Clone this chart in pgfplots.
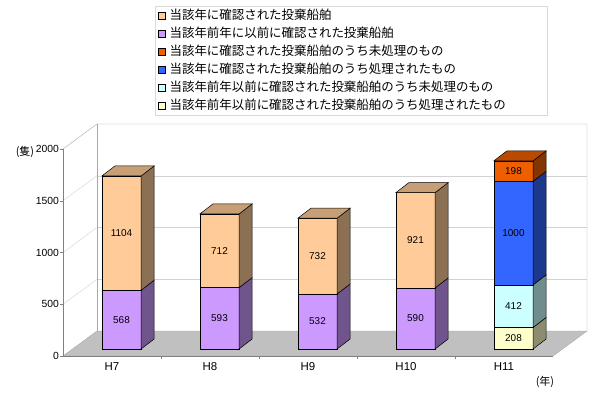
\documentclass[border=0pt]{standalone}
\usepackage{fontspec}
\setmainfont{Liberation Sans}
\newfontfamily\jp{Noto Sans CJK JP}
\usepackage{pgfplots}
\pgfplotsset{compat=1.18}

\definecolor{peach}{HTML}{FFCC99}
\definecolor{lav}{HTML}{CC99FF}
\definecolor{orng}{HTML}{EE5F00}
\definecolor{blu}{HTML}{3366FF}
\definecolor{cyn}{HTML}{CCFFFF}
\definecolor{ylw}{HTML}{FFFFCC}
\definecolor{floorgray}{HTML}{C0C0C0}
\definecolor{gridc}{HTML}{D2D2D2}
\definecolor{wallc}{HTML}{A8A8A8}

% #1 category index, #2 base, #3 value, #4 colour, #5 draw top face (1/0)
\newcommand\seg[5]{%
  \pgfmathsetmacro\xa{#1+0.097-0.2}%
  \pgfmathsetmacro\xb{#1+0.097+0.2}%
  \pgfmathsetmacro\xc{\xb+0.133}%
  \pgfmathsetmacro\xe{\xa+0.133}%
  \pgfmathsetmacro\ya{#2+67.6}%
  \pgfmathsetmacro\yb{#2+#3+67.6}%
  \pgfmathsetmacro\yc{\ya+96.6}%
  \pgfmathsetmacro\yd{\yb+96.6}%
  \pgfmathsetmacro\xm{#1+0.097}%
  \pgfmathsetmacro\ym{#2+#3/2+67.6}%
  \addplot[forget plot, fill=#4, draw=black, line width=0.5pt] coordinates {(\xa,\ya) (\xb,\ya) (\xb,\yb) (\xa,\yb)} -- cycle;
  \addplot[forget plot, fill=#4!55!black, draw=black, line width=0.5pt] coordinates {(\xb,\ya) (\xc,\yc) (\xc,\yd) (\xb,\yb)} -- cycle;
  \ifnum#5=1
  \addplot[forget plot, fill=#4!78!black, draw=black, line width=0.5pt] coordinates {(\xa,\yb) (\xb,\yb) (\xc,\yd) (\xe,\yd)} -- cycle;
  \fi
  \addplot[forget plot, draw=none, mark=none, nodes near coords, point meta=explicit symbolic,
    nodes near coords style={anchor=center, font=\fontsize{10}{12}\selectfont, text=black}]
    coordinates {(\xm,\ym) [#3]};
}

\begin{document}
\begin{tikzpicture}
\begin{axis}[
  scale only axis, width=524bp, height=232bp,
  xmin=-0.5, xmax=4.847, ymin=0, ymax=2241.5,
  axis lines*=left, axis line style={draw=none},
  clip=false,
  ytick={0,500,1000,1500,2000},
  xtick={0,1,2,3,4}, xticklabels={H7,H8,H9,H10,H11},
  minor xtick={0.5,1.5,2.5,3.5},
  major x tick style={draw=none},
  minor x tick style={draw=gray},
  ytick style={draw=gray},
  tick align=outside,
  major tick length=3bp, minor tick length=3bp,
  /pgf/number format/assume math mode=true,
  /pgf/number format/1000 sep={},
  yticklabel style={font=\fontsize{10.4}{12}\selectfont, inner sep=1bp},
  xticklabel style={font=\fontsize{11.5}{13}\selectfont},
  legend style={at={(0.1756,1.5086)}, anchor=north west, draw=gray!30, fill=white,
    inner xsep=3bp, inner ysep=3bp, row sep=5bp,
    font=\jp\fontsize{12.5}{14}\selectfont,
    nodes={inner sep=0pt, text height=10bp, text depth=3bp, anchor=west},
    /tikz/every odd column/.append style={column sep=4bp},
    /tikz/every even column/.append style={text width=375bp}},
  legend cell align=left,
  legend image code/.code={\draw[#1, draw=black, line width=0.4pt] (0bp,-3.5bp) rectangle (7bp,3.5bp);},
]
\addlegendimage{fill=peach}
\addlegendentry{当該年に確認された投棄船舶}
\addlegendimage{fill=lav}
\addlegendentry{当該年前年に以前に確認された投棄船舶}
\addlegendimage{fill=orng}
\addlegendentry{当該年に確認された投棄船舶のうち未処理のもの}
\addlegendimage{fill=blu}
\addlegendentry{当該年に確認された投棄船舶のうち処理されたもの}
\addlegendimage{fill=cyn}
\addlegendentry{当該年前年以前に確認された投棄船舶のうち未処理のもの}
\addlegendimage{fill=ylw}
\addlegendentry{当該年前年以前に確認された投棄船舶のうち処理されたもの}

% floor
\addplot[forget plot, fill=floorgray, draw=wallc] coordinates {(-0.5,0) (4.5,0) (4.847,241.5) (-0.153,241.5)} -- cycle;
% back wall gridlines
\addplot[forget plot, gridc] coordinates {(-0.153,741.5) (4.847,741.5)};
\addplot[forget plot, gridc] coordinates {(-0.153,1241.5) (4.847,1241.5)};
\addplot[forget plot, gridc] coordinates {(-0.153,1741.5) (4.847,1741.5)};
% left wall gridlines
\addplot[forget plot, gridc] coordinates {(-0.5,500) (-0.153,741.5)};
\addplot[forget plot, gridc] coordinates {(-0.5,1000) (-0.153,1241.5)};
\addplot[forget plot, gridc] coordinates {(-0.5,1500) (-0.153,1741.5)};
% wall outlines
\addplot[forget plot, wallc] coordinates {(-0.5,2000) (-0.153,2241.5) (4.847,2241.5) (4.847,241.5)};
\addplot[forget plot, wallc] coordinates {(-0.153,241.5) (-0.153,2241.5)};
% front axes
\addplot[forget plot, gray] coordinates {(-0.5,2000) (-0.5,0) (4.5,0)};

% bars
\seg{0}{0}{568}{lav}{0}
\seg{0}{568}{1104}{peach}{1}
\seg{1}{0}{593}{lav}{0}
\seg{1}{593}{712}{peach}{1}
\seg{2}{0}{532}{lav}{0}
\seg{2}{532}{732}{peach}{1}
\seg{3}{0}{590}{lav}{0}
\seg{3}{590}{921}{peach}{1}
\seg{4}{0}{208}{ylw}{0}
\seg{4}{208}{412}{cyn}{0}
\seg{4}{620}{1000}{blu}{0}
\seg{4}{1620}{198}{orng}{1}

\node[font=\jp\fontsize{11}{13}\selectfont] at (axis cs:-0.888,1971) {(隻)};
\node[font=\jp\fontsize{11}{13}\selectfont] at (axis cs:4.418,-251) {(年)};
\coordinate (ll) at (rel axis cs:0,0);
\end{axis}
\pgfresetboundingbox
\path[use as bounding box] (ll) ++(-63bp,-37bp) rectangle ++(600bp,393bp);
\end{tikzpicture}
\end{document}
